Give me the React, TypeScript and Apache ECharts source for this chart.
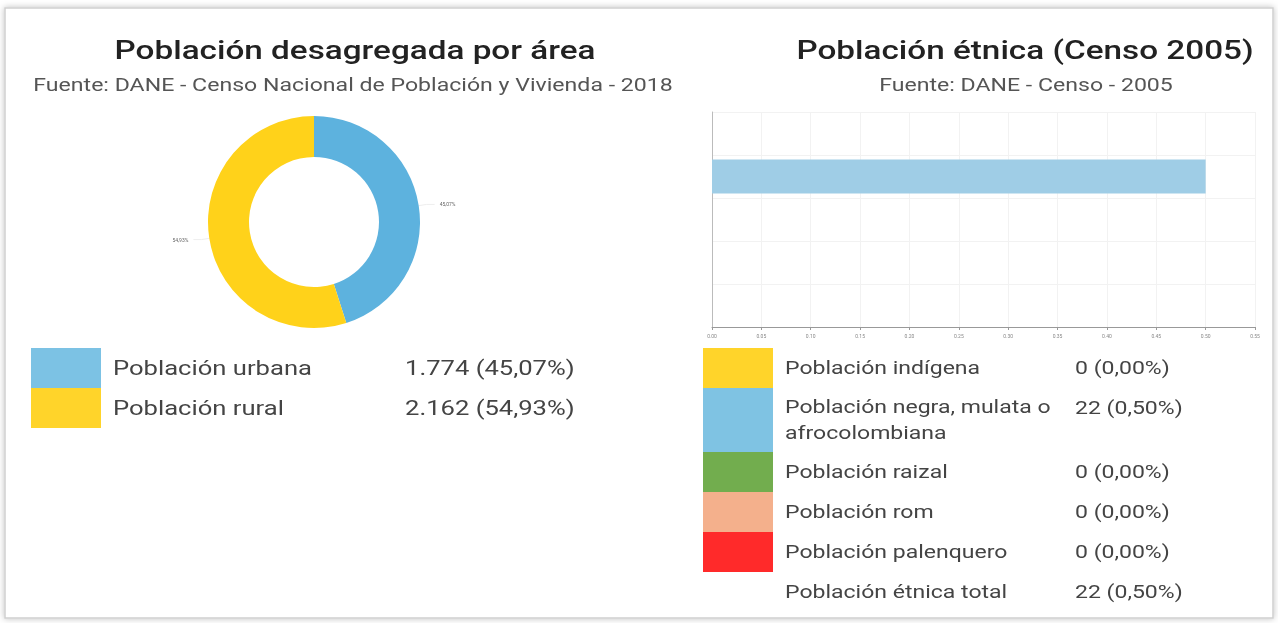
import React, { useEffect, useRef } from "react";
import * as echarts from "echarts";

const areaNames = ["Población urbana", "Población rural"];
const areaValues = [1774, 2162];
const areaLabels = ["1.774 (45,07%)", "2.162 (54,93%)"];
const areaPct = ["45,07%", "54,93%"];
const areaColors = ["#5DB2DE", "#FFD21A"];
const areaLegendColors = ["#7CC2E4", "#FFD42A"];

const ethnicNames = [
  "Población indígena",
  "Población negra, mulata o\nafrocolombiana",
  "Población raizal",
  "Población rom",
  "Población palenquero",
];
const ethnicPct = [0, 0.5, 0, 0, 0];
const ethnicLabels = ["0 (0,00%)", "22 (0,50%)", "0 (0,00%)", "0 (0,00%)", "0 (0,00%)"];
const ethnicColors = ["#FFD42A", "#7FC3E3", "#72AD4E", "#F4B08C", "#FF2A2A"];
const ethnicTotalName = "Población étnica total";
const ethnicTotalLabel = "22 (0,50%)";
const xTicks = { min: 0, max: 0.55, interval: 0.05 };

export default function App() {
  const ref = useRef<HTMLDivElement>(null);
  useEffect(() => {
    const chart = echarts.init(ref.current!, undefined, { renderer: "svg" });
    const font = "Roboto, 'Noto Sans', sans-serif";
    const SX = 1.28;
    const txt = (x: number, y: number, text: string, f: string, fill: string, align = "left", extra: any = {}, sx = SX) => ({
      type: "text",
      x,
      y,
      scaleX: sx,
      style: { text, font: f, fill, align, verticalAlign: "middle", ...extra },
    });
    const graphics: any[] = [
      {
        type: "rect",
        shape: { x: 5, y: 8, width: 1268, height: 610 },
        style: { fill: "#fff", stroke: "#d0d0d0", lineWidth: 1.5, shadowBlur: 6, shadowColor: "rgba(0,0,0,0.25)" },
        z: -10,
      },
      txt(355, 50, "Población desagregada por área", `500 26px ${font}`, "#222", "center"),
      txt(353, 85, "Fuente: DANE - Censo Nacional de Población y Vivienda - 2018", `17.5px ${font}`, "#555", "center", {}, 1.32),
      txt(1025, 50, "Población étnica (Censo 2005)", `500 26px ${font}`, "#222", "center"),
      txt(1026, 85, "Fuente: DANE - Censo - 2005", `17.5px ${font}`, "#555", "center", {}, 1.32),
    ];
    areaNames.forEach((n, i) => {
      const y = 348 + i * 40;
      graphics.push({ type: "rect", shape: { x: 31, y, width: 70, height: 40 }, style: { fill: areaLegendColors[i] } });
      graphics.push(txt(113, y + 20, n, `20px ${font}`, "#444"));
      graphics.push(txt(405, y + 20, areaLabels[i], `20px ${font}`, "#444"));
    });
    let y = 348;
    ethnicNames.forEach((n, i) => {
      const h = n.includes("\n") ? 64 : 40;
      graphics.push({ type: "rect", shape: { x: 703, y, width: 70, height: h }, style: { fill: ethnicColors[i] } });
      graphics.push({
        type: "text",
        x: 785,
        y: y + (h === 40 ? 20 : 6),
        scaleX: SX,
        style: { text: n, font: `18px ${font}`, fill: "#444", verticalAlign: h === 40 ? "middle" : "top", lineHeight: 26 },
      });
      graphics.push(txt(1075, y + 20, ethnicLabels[i], `18px ${font}`, "#444"));
      y += h;
    });
    graphics.push(txt(785, y + 20, ethnicTotalName, `18px ${font}`, "#444"));
    graphics.push(txt(1075, y + 20, ethnicTotalLabel, `18px ${font}`, "#444"));

    chart.setOption({
      animation: false,
      textStyle: { fontFamily: font },
      graphic: graphics,
      grid: { left: 712, right: 23, top: 112, bottom: 296 },
      xAxis: {
        type: "value",
        min: xTicks.min,
        max: xTicks.max,
        interval: xTicks.interval,
        axisLine: { show: true, lineStyle: { color: "#999" } },
        axisTick: { show: true, length: 3, lineStyle: { color: "#999" } },
        axisLabel: { fontSize: 5, color: "#888", formatter: (v: number) => v.toFixed(2), margin: 6 },
        splitLine: { show: true, lineStyle: { color: "#f2f2f2" } },
      },
      yAxis: {
        type: "category",
        inverse: true,
        data: ethnicNames,
        axisLine: { show: true, lineStyle: { color: "#bbb" } },
        axisTick: { show: false },
        axisLabel: { show: false },
        splitLine: { show: true, lineStyle: { color: "#f2f2f2" } },
      },
      series: [
        {
          type: "bar",
          data: ethnicPct.map((v) => ({ value: v })),
          itemStyle: { color: "#9FCDE6" },
          barWidth: 34,
        },
        {
          type: "pie",
          center: [314, 222],
          radius: [65, 106],
          startAngle: 90,
          clockwise: true,
          data: areaNames.map((n, i) => ({ name: n, value: areaValues[i], itemStyle: { color: areaColors[i] } })),
          label: {
            show: true,
            position: "outside",
            fontSize: 5,
            color: "#666",
            formatter: (p: any) => areaPct[p.dataIndex],
          },
          labelLine: { show: true, length: 8, length2: 8, lineStyle: { color: "#eee" } },
        },
      ],
    });
    return () => chart.dispose();
  }, []);
  return <div ref={ref} style={{ position: "fixed", left: 0, top: 0, width: 1278, height: 623 }} />;
}
